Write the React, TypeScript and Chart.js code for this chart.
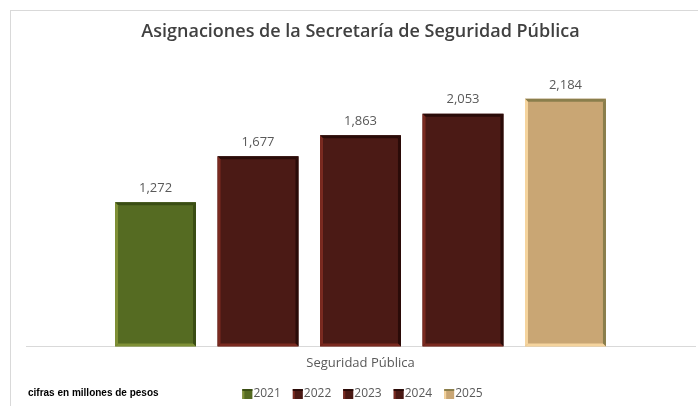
import React, { useEffect, useRef } from "react";
import { Chart, registerables } from "chart.js";

Chart.register(...registerables);

const categories = ["Seguridad Pública"];
const years = ["2021", "2022", "2023", "2024", "2025"];
const values = [1272, 1677, 1863, 2053, 2184];
const fillColors = ["#556B22", "#4B1A15", "#4B1A15", "#4B1A15", "#C9A674"];
const bevelLight = ["#7F9036", "#7A2A20", "#7A2A20", "#7A2A20", "#F5D49E"];
const bevelDark = ["#3A4D14", "#2A0B08", "#2A0B08", "#2A0B08", "#8A7E4C"];
const titleText = "Asignaciones de la Secretaría de Seguridad Pública";
const noteText = "cifras en millones de pesos";

const FONT = "'Open Sans', sans-serif";

const decorPlugin = {
  id: "decor",
  beforeDraw(chart: any) {
    const ctx = chart.ctx;
    ctx.save();
    ctx.strokeStyle = "#D9D9D9";
    ctx.lineWidth = 1;
    ctx.strokeRect(10.5, 10.5, 1000, 1000);
    ctx.restore();
  },
  afterDatasetsDraw(chart: any) {
    const ctx = chart.ctx;
    const b = 3;
    chart.data.datasets.forEach((ds: any, i: number) => {
      const meta = chart.getDatasetMeta(i);
      meta.data.forEach((el: any, j: number) => {
        const { x, y, base, width } = el.getProps(["x", "y", "base", "width"], true);
        const l = x - width / 2;
        const r = x + width / 2;
        const t = y;
        const bt = base;
        ctx.save();
        // top
        ctx.fillStyle = bevelDark[i];
        ctx.beginPath();
        ctx.moveTo(l, t); ctx.lineTo(r, t); ctx.lineTo(r - b, t + b); ctx.lineTo(l + b, t + b); ctx.closePath(); ctx.fill();
        // right
        ctx.beginPath();
        ctx.moveTo(r, t); ctx.lineTo(r, bt); ctx.lineTo(r - b, bt - b); ctx.lineTo(r - b, t + b); ctx.closePath(); ctx.fill();
        // left
        ctx.fillStyle = bevelLight[i];
        ctx.beginPath();
        ctx.moveTo(l, t); ctx.lineTo(l + b, t + b); ctx.lineTo(l + b, bt - b); ctx.lineTo(l, bt); ctx.closePath(); ctx.fill();
        // bottom
        ctx.beginPath();
        ctx.moveTo(l, bt); ctx.lineTo(l + b, bt - b); ctx.lineTo(r - b, bt - b); ctx.lineTo(r, bt); ctx.closePath(); ctx.fill();
        // value label
        ctx.fillStyle = "#595959";
        ctx.font = `13px ${FONT}`;
        ctx.textAlign = "center";
        ctx.textBaseline = "middle";
        ctx.fillText(Number(ds.data[j]).toLocaleString("en-US"), x, t - 14);
        ctx.restore();
      });
    });
  },
  afterDraw(chart: any) {
    const ctx = chart.ctx;
    ctx.save();
    // note
    ctx.fillStyle = "#000000";
    ctx.font = "bold 10px 'Liberation Sans', sans-serif";
    ctx.textAlign = "left";
    ctx.textBaseline = "middle";
    ctx.fillText(noteText, 28, 393);
    // legend
    ctx.font = `12px ${FONT}`;
    const box = 10;
    const gap = 12;
    const widths = years.map((yv) => ctx.measureText(yv).width);
    const total = widths.reduce((a, w) => a + box + 1 + w, 0) + gap * (years.length - 1);
    const ca = chart.chartArea;
    let x = (ca.left + ca.right) / 2 - total / 2 + 2;
    const cy = 394;
    years.forEach((yv, i) => {
      ctx.fillStyle = fillColors[i];
      ctx.fillRect(x, cy - box / 2, box, box);
      ctx.fillStyle = bevelLight[i];
      ctx.fillRect(x, cy - box / 2, 2, box);
      ctx.fillStyle = bevelDark[i];
      ctx.fillRect(x, cy - box / 2, box, 2);
      ctx.fillStyle = "#595959";
      ctx.fillText(yv, x + box + 1, cy);
      x += box + 1 + widths[i] + gap;
    });
    ctx.restore();
  },
};

export default function App() {
  const ref = useRef<HTMLCanvasElement | null>(null);
  useEffect(() => {
    if (!ref.current) return;
    const chart = new Chart(ref.current, {
      type: "bar",
      data: {
        labels: categories,
        datasets: years.map((yv, i) => ({
          label: yv,
          data: [values[i]],
          backgroundColor: fillColors[i],
          borderWidth: 0,
          categoryPercentage: 0.766,
          barPercentage: 0.79,
        })),
      },
      options: {
        responsive: false,
        animation: false,
        devicePixelRatio: 1,
        layout: { padding: { left: 26, right: 3, top: 0, bottom: 26 } },
        plugins: {
          legend: { display: false },
          tooltip: { enabled: false },
          title: {
            display: true,
            text: titleText,
            color: "#404040",
            font: { family: FONT, size: 18, weight: "600" as any, lineHeight: 1.2 },
            padding: { top: 21, bottom: 20.4 },
          },
        },
        scales: {
          x: {
            grid: { display: false, drawTicks: false },
            border: { display: true, color: "#D9D9D9", width: 1 },
            ticks: { color: "#595959", font: { family: FONT, size: 13 }, padding: 9 },
          },
          y: { display: false, min: 0, max: 2500 },
        },
      },
      plugins: [decorPlugin],
    });
    return () => chart.destroy();
  }, []);
  return (
    <div style={{ position: "fixed", left: 0, top: 0, width: 698, height: 406, background: "#fff" }}>
      <canvas ref={ref} width={698} height={406} />
    </div>
  );
}
